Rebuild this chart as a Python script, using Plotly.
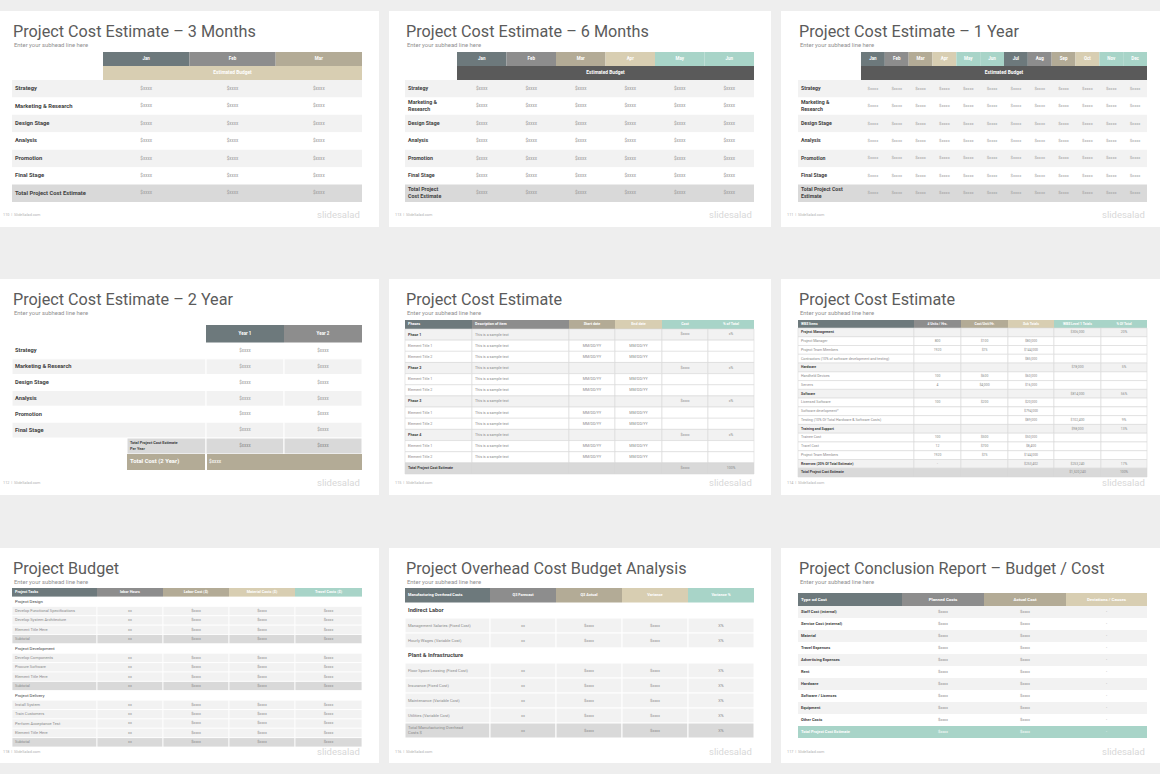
import plotly.graph_objects as go

# ---------------- data ----------------
TITLES = [
    "Project Cost Estimate – 3 Months",
    "Project Cost Estimate – 6 Months",
    "Project Cost Estimate – 1 Year",
    "Project Cost Estimate – 2 Year",
    "Project Cost Estimate",
    "Project Cost Estimate",
    "Project Budget",
    "Project Overhead Cost Budget Analysis",
    "Project Conclusion Report – Budget / Cost",
]
SUBHEAD = "Enter your subhead line here"
PAGE_NUMS = ["110", "113", "111", "112", "115", "114", "118", "116", "117"]
FOOTER_SITE = "SlideSalad.com"
BRAND = "slidesalad"

MONTHS_3 = ["Jan", "Feb", "Mar"]
MONTHS_6 = ["Jan", "Feb", "Mar", "Apr", "May", "Jun"]
MONTHS_12 = ["Jan", "Feb", "Mar", "Apr", "May", "Jun", "Jul", "Aug", "Sep", "Oct", "Nov", "Dec"]
BUDGET_LABEL = "Estimated Budget"
AMOUNT = "$xxxx"

STAGES_3M = ["Strategy", "Marketing & Research", "Design Stage", "Analysis",
             "Promotion", "Final Stage", "Total Project Cost Estimate"]
STAGES_6M = ["Strategy", "Marketing &<br>Research", "Design Stage", "Analysis",
             "Promotion", "Final Stage", "Total Project<br>Cost Estimate"]
STAGES_1Y = ["Strategy", "Marketing &<br>Research", "Design Stage", "Analysis",
             "Promotion", "Final Stage", "Total Project Cost<br>Estimate"]

YEARS = ["Year 1", "Year 2"]
STAGES_2Y = ["Strategy", "Marketing & Research", "Design Stage", "Analysis", "Promotion", "Final Stage"]
TOTALS_2Y = ["Total Project Cost Estimate<br>Per Year", "Total Cost (2 Year)"]

PHASE_HEAD = ["Phases", "Description of item", "Start date", "End date", "Cost", "% of Total"]
PHASE_ITEMS = ["Phase 1", "Element Title 1", "Element Title 2",
               "Phase 2", "Element Title 1", "Element Title 2",
               "Phase 3", "Element Title 1", "Element Title 2",
               "Phase 4", "Element Title 1", "Element Title 2",
               "Total Project Cost Estimate"]
PHASE_KIND = ["group", "item", "item", "group", "item", "item", "group", "item", "item",
              "group", "item", "item", "total"]
PHASE_DESC = ["This is a sample text", "This is a sample text", "This is a sample text",
              "This is a sample text", "This is a sample text", "This is a sample text",
              "This is a sample text", "This is a sample text", "This is a sample text",
              "This is a sample text", "This is a sample text", "This is a sample text", ""]
PHASE_START = ["", "MM/DD/YY", "MM/DD/YY", "", "MM/DD/YY", "MM/DD/YY",
               "", "MM/DD/YY", "MM/DD/YY", "", "MM/DD/YY", "MM/DD/YY", ""]
PHASE_END = ["", "MM/DD/YY", "MM/DD/YY", "", "MM/DD/YY", "MM/DD/YY",
             "", "MM/DD/YY", "MM/DD/YY", "", "MM/DD/YY", "MM/DD/YY", ""]
PHASE_COST = ["$xxxx", "", "", "$xxxx", "", "", "$xxxx", "", "", "$xxxx", "", "", "$xxxx"]
PHASE_PCT = ["x%", "", "", "x%", "", "", "x%", "", "", "x%", "", "", "100%"]

WBS_HEAD = ["WBS Items", "# Units / Hrs.", "Cost/Unit/Hr.", "Sub Totals", "WBS Level 1 Totals", "% Of Total"]
WBS_ITEMS = ["Project Management", "Project Manager", "Project Team Members",
             "Contractors (10% of software development and testing)", "Hardware",
             "Handheld Devices", "Servers", "Software", "Licensed Software",
             "Software development*", "Testing (10% Of Total Hardware & Software Costs)",
             "Training and Support", "Trainee Cost", "Travel Cost", "Project Team Members",
             "Reserves (20% Of Total Estimate)", "Total Project Cost Estimate"]
WBS_KIND = ["group", "item", "item", "item", "group", "item", "item", "group", "item",
            "item", "item", "group", "item", "item", "item", "group", "total"]
WBS_UNITS = ["", "800", "1920", "", "", "100", "4", "", "100", "", "", "", "100", "12", "1920", "-", ""]
WBS_UNIT_COST = ["", "$100", "$75", "", "", "$600", "$4,000", "", "$200", "", "", "",
                 "$500", "$700", "$75", "", ""]
WBS_SUBTOTAL = ["", "$80,000", "$144,000", "$85,000", "", "$60,000", "$16,000", "", "$20,000",
                "$794,000", "$89,000", "", "$50,000", "$8,400", "$144,000", "$253,402", ""]
WBS_LEVEL1 = ["$306,000", "", "", "", "$78,000", "", "", "$814,000", "", "", "$102,400",
              "$98,000", "", "", "", "$253,240", "$1,520,240"]
WBS_PCT = ["20%", "", "", "", "5%", "", "", "56%", "", "", "9%", "13%", "", "", "", "17%", "100%"]

BUDGET_HEAD = ["Project Tasks", "labor Hours", "Labor Cost ($)", "Material Costs ($)", "Travel Costs ($)"]
BUDGET_TASKS = ["Project Design", "Develop Functional Specifications", "Develop System Architecture",
                "Element Title Here", "Subtotal", "Project Development", "Develop Components",
                "Procure Software", "Element Title Here", "Subtotal", "Project Delivery",
                "Install System", "Train Customers", "Perform Acceptance Test", "Element Title Here",
                "Subtotal"]
BUDGET_KIND = ["section", "item", "item", "item", "sub", "section", "item", "item", "item", "sub",
               "section", "item", "item", "item", "item", "sub"]
BUDGET_HOURS = ["", "xx", "xx", "xx", "xx", "", "xx", "xx", "xx", "xx", "", "xx", "xx", "xx", "xx", "xx"]
BUDGET_LABOR = ["", "$xxxx", "$xxxx", "$xxxx", "$xxxx", "", "$xxxx", "$xxxx", "$xxxx", "$xxxx",
                "", "$xxxx", "$xxxx", "$xxxx", "$xxxx", "$xxxx"]
BUDGET_MATERIAL = ["", "$xxxx", "$xxxx", "$xxxx", "$xxxx", "", "$xxxx", "$xxxx", "$xxxx", "$xxxx",
                   "", "$xxxx", "$xxxx", "$xxxx", "$xxxx", "$xxxx"]
BUDGET_TRAVEL = ["", "$xxxx", "$xxxx", "$xxxx", "$xxxx", "", "$xxxx", "$xxxx", "$xxxx", "$xxxx",
                 "", "$xxxx", "$xxxx", "$xxxx", "$xxxx", "$xxxx"]

OVERHEAD_HEAD = ["Manufacturing Overhead Costs", "Q3 Forecast", "Q3 Actual", "Variance", "Variance %"]
OVERHEAD_ITEMS = ["Indirect Labor", "Management Salaries (Fixed Cost)", "Hourly Wages (Variable Cost)",
                  "Plant & Infrastructure", "Floor Space Leasing (Fixed Cost)", "Insurance (Fixed Cost)",
                  "Maintenance (Variable Cost)", "Utilities (Variable Cost)",
                  "Total Manufacturing Overhead<br>Costs $"]
OVERHEAD_KIND = ["section", "item", "item", "section", "item", "item", "item", "item", "total"]
OVERHEAD_FORECAST = ["", "xx", "xx", "", "xx", "xx", "xx", "xx", "xx"]
OVERHEAD_ACTUAL = ["", "$xxxx", "$xxxx", "", "$xxxx", "$xxxx", "$xxxx", "$xxxx", "$xxxx"]
OVERHEAD_VARIANCE = ["", "$xxxx", "$xxxx", "", "$xxxx", "$xxxx", "$xxxx", "$xxxx", "$xxxx"]
OVERHEAD_PCT = ["", "X%", "X%", "", "X%", "X%", "X%", "X%", "X%"]

CONCL_HEAD = ["Type od Cost", "Planned Costs", "Actual Cost", "Deviations / Causes"]
CONCL_ITEMS = ["Staff Cost (internal)", "Service Cost (external)", "Material", "Travel Expenses",
               "Advertising Expenses", "Rent", "Hardware", "Software / Licenses", "Equipment",
               "Other Costs", "Total Project Cost Estimate"]
CONCL_PLANNED = ["$xxxx", "$xxxx", "$xxxx", "$xxxx", "$xxxx", "$xxxx", "$xxxx", "$xxxx", "$xxxx",
                 "$xxxx", "$xxxx"]
CONCL_ACTUAL = ["$xxxx", "$xxxx", "$xxxx", "$xxxx", "$xxxx", "$xxxx", "$xxxx", "$xxxx", "$xxxx",
                "$xxxx", "$xxxx"]
CONCL_DEV = ["-", "-", "-", "-", "-", "-", "-", "-", "-", "-", "-"]

# ---------------- style / layout ----------------
W, H = 1160, 774
BG = "#eeeeee"
SLATE, GRAY, KHAKI, BEIGE, MINT, DARK = "#6d797c", "#8d8d8d", "#b3ab96", "#d8ceb2", "#a8d4c8", "#5a5a5a"
ROW, TOTAL, WHITE = "#f2f2f2", "#d9d9d9", "#ffffff"
TXT, VAL, SOFT = "#3f3f3f", "#9c9c9c", "#8a8a8a"
HEAD_COLORS = [SLATE, GRAY, KHAKI, BEIGE, MINT, MINT]
MONTH_COLORS = [SLATE, GRAY, KHAKI, BEIGE, MINT, MINT, SLATE, GRAY, KHAKI, BEIGE, MINT, MINT]
FONT = "Roboto"

CARD_X = [(0, 379), (389, 771), (781, 1160)]
CARD_Y = [(11, 227), (279, 495), (548, 763)]
CONTENT_X = [(12, 362), (405, 754), (798, 1147)]
FOOT_X = [1, 393, 785]


def split(a, b, n):
    return [a + (b - a) * i / n for i in range(n + 1)]


def mid(edges, i):
    return (edges[i] + edges[i + 1]) / 2


bars = {"base": [], "len": [], "y": [], "h": [], "fill": [], "lc": [], "lw": []}
labels = {"x": [], "y": [], "t": [], "pos": [], "size": [], "color": []}


def cell(x0, x1, y0, y1, fill, lc=None, lw=0):
    bars["base"].append(x0)
    bars["len"].append(x1 - x0)
    bars["y"].append((y0 + y1) / 2)
    bars["h"].append(y1 - y0)
    bars["fill"].append(fill)
    bars["lc"].append(lc or fill)
    bars["lw"].append(lw)


def put(x, y, t, size, color, pos="middle center"):
    if not t:
        return
    labels["x"].append(x)
    labels["y"].append(y)
    labels["t"].append(t)
    labels["pos"].append(pos)
    labels["size"].append(size)
    labels["color"].append(color)


def header(xs, y0, y1, names, colors, size, left_cols=(0,)):
    for c, name in enumerate(names):
        cell(xs[c], xs[c + 1], y0, y1, colors[c])
        if c in left_cols:
            put(xs[c] + 3, (y0 + y1) / 2, "<b>%s</b>" % name, size, WHITE, "middle right")
        else:
            put(mid(xs, c), (y0 + y1) / 2, "<b>%s</b>" % name, size, WHITE)


# ---- slides 1-3: monthly estimates ----
monthly = [
    (0, 103, MONTHS_3, STAGES_3M, BEIGE, 5.8),
    (1, 457, MONTHS_6, STAGES_6M, DARK, 5.3),
    (2, 861, MONTHS_12, STAGES_1Y, DARK, 5.2),
]
for k, split_x, months, stages, band, lsize in monthly:
    x0, x1 = CONTENT_X[k]
    xs = [x0] + split(split_x, x1, len(months))
    header(xs[1:], 52, 66, months, MONTH_COLORS, 4.5, left_cols=())
    cell(split_x, x1, 66, 80, band)
    put((split_x + x1) / 2, 73, "<b>%s</b>" % BUDGET_LABEL, 4.8, WHITE)
    ys = split(80, 202, len(stages))
    for r, name in enumerate(stages):
        fill = TOTAL if r == len(stages) - 1 else (ROW if r % 2 == 0 else WHITE)
        cell(x0, x1, ys[r], ys[r + 1], fill)
        put(x0 + 3, mid(ys, r), "<b>%s</b>" % name, lsize, TXT, "middle right")
        for c in range(len(months)):
            put(mid(xs, c + 1), mid(ys, r), AMOUNT, 4.6 if k < 2 else 4.2, VAL)

# ---- slide 4: two years ----
x0, x1 = CONTENT_X[0]
xs = [x0, 206, 284, x1]
header(xs[1:], 325, 343, YEARS, [SLATE, GRAY], 4.5, left_cols=())
ys = split(343, 438, len(STAGES_2Y))
for r, name in enumerate(STAGES_2Y):
    fill = ROW if r % 2 == 1 else WHITE
    for c in range(3):
        cell(xs[c], xs[c + 1], ys[r], ys[r + 1], fill, WHITE, 1)
    put(x0 + 3, mid(ys, r), "<b>%s</b>" % name, 5.7, TXT, "middle right")
    put(mid(xs, 1), mid(ys, r), AMOUNT, 4.5, VAL)
    put(mid(xs, 2), mid(ys, r), AMOUNT, 4.5, VAL)
tx = [127, 206, 284, x1]
for c in range(3):
    cell(tx[c], tx[c + 1], 438, 454, TOTAL, WHITE, 1)
put(tx[0] + 3, 446, "<b>%s</b>" % TOTALS_2Y[0], 3.9, TXT, "middle right")
put(mid(tx, 1), 446, AMOUNT, 4.5, SOFT)
put(mid(tx, 2), 446, AMOUNT, 4.5, SOFT)
cell(tx[0], tx[3], 454, 470, KHAKI)
cell(tx[1] - 0.5, tx[1] + 0.5, 454, 470, WHITE)
put(tx[0] + 3, 462, "<b>%s</b>" % TOTALS_2Y[1], 5.9, WHITE, "middle right")
put(tx[1] + 3, 462, AMOUNT, 4.8, WHITE, "middle right")

# ---- slide 5: phases ----
x0, x1 = CONTENT_X[1]
xs = [x0, 472, 569, 615, 662, 708, x1]
header(xs, 320, 329, PHASE_HEAD, HEAD_COLORS, 3.7, left_cols=(0, 1))
ys = split(329, 474, len(PHASE_ITEMS))
cols = [PHASE_START, PHASE_END, PHASE_COST, PHASE_PCT]
for r, name in enumerate(PHASE_ITEMS):
    kind = PHASE_KIND[r]
    fill = {"group": ROW, "item": WHITE, "total": TOTAL}[kind]
    for c in range(6):
        cell(xs[c], xs[c + 1], ys[r], ys[r + 1], fill, "#d8d8d8", 0.6)
    y = mid(ys, r)
    if kind == "item":
        put(x0 + 3, y, name, 3.7, SOFT, "middle right")
    else:
        put(x0 + 3, y, "<b>%s</b>" % name, 3.7, TXT, "middle right")
    put(xs[1] + 3, y, PHASE_DESC[r], 3.7, SOFT, "middle right")
    for c, values in enumerate(cols):
        put(mid(xs, c + 2), y, values[r], 3.6, SOFT)

# ---- slide 6: WBS ----
x0, x1 = CONTENT_X[2]
xs = [x0, 914, 961, 1008, 1054, 1101, x1]
header(xs, 320, 328, WBS_HEAD, HEAD_COLORS, 3.4)
ys = split(328, 477, len(WBS_ITEMS))
cols = [WBS_UNITS, WBS_UNIT_COST, WBS_SUBTOTAL, WBS_LEVEL1, WBS_PCT]
for r, name in enumerate(WBS_ITEMS):
    kind = WBS_KIND[r]
    fill = {"group": ROW, "item": WHITE, "total": TOTAL}[kind]
    for c in range(6):
        cell(xs[c], xs[c + 1], ys[r], ys[r + 1], fill, "#d8d8d8", 0.6)
    y = mid(ys, r)
    if kind == "item":
        put(x0 + 3, y, name, 3.6, SOFT, "middle right")
    else:
        put(x0 + 3, y, "<b>%s</b>" % name, 3.5, TXT, "middle right")
    for c, values in enumerate(cols):
        put(mid(xs, c + 1), y, values[r], 3.4, SOFT)

# ---- slide 7: project budget ----
x0, x1 = CONTENT_X[0]
xs = [x0, 97, 163, 229, 295, x1]
header(xs, 588, 597, BUDGET_HEAD, HEAD_COLORS, 3.8)
ys = split(597, 747, len(BUDGET_TASKS))
cols = [BUDGET_HOURS, BUDGET_LABOR, BUDGET_MATERIAL, BUDGET_TRAVEL]
for r, name in enumerate(BUDGET_TASKS):
    kind = BUDGET_KIND[r]
    fill = {"section": WHITE, "item": ROW, "sub": TOTAL}[kind]
    for c in range(5):
        cell(xs[c], xs[c + 1], ys[r], ys[r + 1], fill, WHITE, 0.8)
    y = mid(ys, r)
    if kind == "section":
        put(x0 + 3, y, name, 4.3, TXT, "middle right")
    else:
        put(x0 + 3, y, name, 4.0, SOFT, "middle right")
    for c, values in enumerate(cols):
        put(mid(xs, c + 1), y, values[r], 3.8, SOFT)

# ---- slide 8: overhead ----
x0, x1 = CONTENT_X[1]
xs = [x0, 490, 556, 622, 688, x1]
header(xs, 588, 603, OVERHEAD_HEAD, HEAD_COLORS, 3.9)
ys = split(603, 738, len(OVERHEAD_ITEMS))
cols = [OVERHEAD_FORECAST, OVERHEAD_ACTUAL, OVERHEAD_VARIANCE, OVERHEAD_PCT]
for r, name in enumerate(OVERHEAD_ITEMS):
    kind = OVERHEAD_KIND[r]
    fill = {"section": WHITE, "item": ROW, "total": TOTAL}[kind]
    for c in range(5):
        cell(xs[c], xs[c + 1], ys[r], ys[r + 1], fill, WHITE, 1)
    y = mid(ys, r)
    if kind == "section":
        put(x0 + 3, y, "<b>%s</b>" % name, 5.7, TXT, "middle right")
    else:
        put(x0 + 3, y, name, 4.1, SOFT, "middle right")
    for c, values in enumerate(cols):
        put(mid(xs, c + 1), y, values[r], 4.0, SOFT)

# ---- slide 9: conclusion report ----
x0, x1 = CONTENT_X[2]
xs = [x0, 902, 984, 1066, x1]
header(xs, 593, 606, CONCL_HEAD, HEAD_COLORS, 4.4)
ys = split(606, 738, len(CONCL_ITEMS))
cols = [CONCL_PLANNED, CONCL_ACTUAL, CONCL_DEV]
for r, name in enumerate(CONCL_ITEMS):
    last = r == len(CONCL_ITEMS) - 1
    fill = MINT if last else (ROW if r % 2 == 0 else WHITE)
    cell(x0, x1, ys[r], ys[r + 1], fill)
    y = mid(ys, r)
    put(x0 + 3, y, "<b>%s</b>" % name, 4.0, WHITE if last else TXT, "middle right")
    for c, values in enumerate(cols):
        put(mid(xs, c + 1), y, values[r], 4.0, WHITE if last else SOFT)

# ---------------- figure ----------------
fig = go.Figure()
fig.add_trace(go.Bar(
    orientation="h", base=bars["base"], x=bars["len"], y=bars["y"], width=bars["h"],
    marker=dict(color=bars["fill"], line=dict(color=bars["lc"], width=bars["lw"])),
    hoverinfo="skip", showlegend=False,
))
fig.add_trace(go.Scatter(
    x=labels["x"], y=labels["y"], text=labels["t"], mode="text",
    textposition=labels["pos"],
    textfont=dict(family=FONT, size=labels["size"], color=labels["color"]),
    hoverinfo="skip", showlegend=False,
))

shapes = []
annotations = []
for i in range(9):
    row, col = divmod(i, 3)
    cx0, cx1 = CARD_X[col]
    cy0, cy1 = CARD_Y[row]
    shapes.append(dict(type="rect", xref="x", yref="y", x0=cx0, x1=cx1, y0=cy0, y1=cy1,
                       fillcolor=WHITE, line_width=0, layer="below"))
    left, right = CONTENT_X[col]
    annotations.append(dict(x=left - 1, y=cy0 + 20, text=TITLES[i], showarrow=False,
                            xanchor="left", yanchor="middle",
                            font=dict(family=FONT, size=16.2, color="#5b5b5b")))
    annotations.append(dict(x=left, y=cy0 + 34, text=SUBHEAD, showarrow=False,
                            xanchor="left", yanchor="middle",
                            font=dict(family=FONT, size=5.9, color="#8f8f8f")))
    annotations.append(dict(x=FOOT_X[col], y=cy0 + 203, text="%s  |  %s" % (PAGE_NUMS[i], FOOTER_SITE),
                            showarrow=False, xanchor="left", yanchor="middle",
                            font=dict(family=FONT, size=3.8, color="#b0b0b0")))
    annotations.append(dict(x=right, y=cy0 + 203, text=BRAND, showarrow=False,
                            xanchor="right", yanchor="middle",
                            font=dict(family=FONT, size=9.5, color="#d8d8d8")))

fig.update_layout(
    width=W, height=H, autosize=False, margin=dict(l=0, r=0, t=0, b=0),
    paper_bgcolor=BG, plot_bgcolor=BG, barmode="overlay",
    xaxis=dict(range=[0, W], visible=False, fixedrange=True),
    yaxis=dict(range=[H, 0], visible=False, fixedrange=True),
    shapes=shapes, annotations=annotations,
)
fig.write_html("out.html", config={"displayModeBar": False},
               post_script="document.body.style.margin='0';document.body.style.background='%s';" % BG)
